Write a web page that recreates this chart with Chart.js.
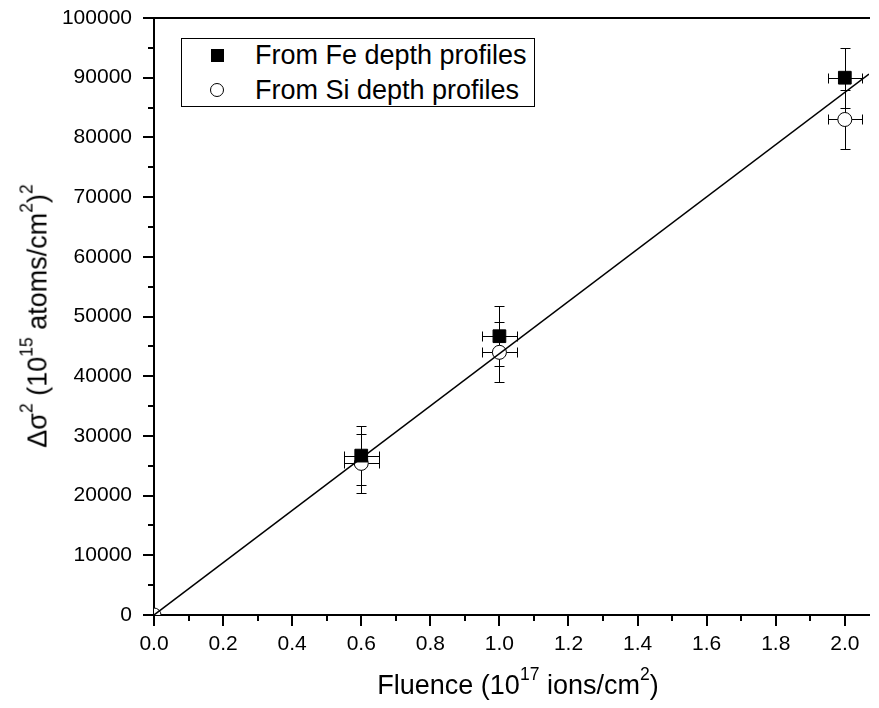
<!DOCTYPE html>
<html lang="en">
<head>
    <title>Δσ² versus fluence</title>
    <meta charset="utf-8">
    <script src="https://cdn.jsdelivr.net/npm/chart.js"></script>
    <style>
        body { margin: 0; background: #fff; }
        #wrap { position: relative; width: 879px; height: 708px; font-family: "Liberation Sans", Arial, sans-serif; color: #000; }
        #wrap canvas { position: absolute; left: 0; top: 0; }
        .title { position: absolute; font-size: 27px; line-height: 27px; white-space: nowrap; }
        .title sup { font-size: 0.65em; line-height: 0; vertical-align: 14px; }
        #xTitle { left: 518px; top: 672px; transform: translateX(-50%); }
        #yTitle { left: 38px; top: 316px; transform: translate(-50%, -50%) rotate(-90deg); }
        .legend-box { position: absolute; left: 181px; top: 38px; width: 352px; height: 67px; border: 1px solid #000; background: #fff; }
        .legend-text { position: absolute; left: 255px; font-size: 27px; line-height: 27px; white-space: nowrap; }
        .mark-square { position: absolute; left: 211px; top: 49px; width: 13px; height: 13px; background: #000; }
        .mark-circle { position: absolute; left: 210px; top: 83px; width: 12px; height: 12px; border: 1px solid #000; border-radius: 50%; background: #fff; }
    </style>
</head>
<body>
    <div id="wrap">
        <canvas id="fluenceChart" width="879" height="708"></canvas>
        <div class="legend-box"></div>
        <div class="mark-square"></div>
        <div class="legend-text" style="top: 42px;">From Fe depth profiles</div>
        <div class="mark-circle"></div>
        <div class="legend-text" style="top: 77px;">From Si depth profiles</div>
        <div class="title" id="xTitle">Fluence (10<sup>17</sup> ions/cm<sup>2</sup>)</div>
        <div class="title" id="yTitle">Δσ<sup>2</sup> (10<sup>15</sup> atoms/cm<sup>2</sup>)<sup>2</sup></div>
    </div>

    <script>
        // fluence in 1e17 ions/cm², broadening in (1e15 atoms/cm²)²
        var fluence  = [0, 0.6, 1.0, 2.0];
        var feValues = [null, 26700, 46700, 90000];
        var siValues = [0, 25400, 44000, 83000];
        var yErr     = [0, 5000, 5000, 5000];
        var xErr     = [0, 0.05, 0.05, 0.05];

        // linear fit through the origin
        var fitX = [0, 2.07];
        var fitY = [0, 90600];

        var CAP = 5;

        function toPoints(xs, ys) {
            return xs.map(function (x, i) { return { x: x, y: ys[i] }; });
        }

        var errorBars = {
            id: 'errorBars',
            beforeDatasetsDraw: function (chart) {
                var ctx = chart.ctx, xs = chart.scales.x, ys = chart.scales.y;
                ctx.save();
                ctx.strokeStyle = '#000';
                ctx.lineWidth = 1;
                [feValues, siValues].forEach(function (vals) {
                    vals.forEach(function (v, i) {
                        if (v === null) return;
                        var px = Math.round(xs.getPixelForValue(fluence[i])) + 0.5;
                        var py = Math.round(ys.getPixelForValue(v)) + 0.5;
                        ctx.beginPath();
                        if (yErr[i] > 0) {
                            var top = Math.round(ys.getPixelForValue(v + yErr[i])) + 0.5;
                            var bot = Math.round(ys.getPixelForValue(v - yErr[i])) + 0.5;
                            ctx.moveTo(px, top); ctx.lineTo(px, bot);
                            ctx.moveTo(px - CAP, top); ctx.lineTo(px + CAP, top);
                            ctx.moveTo(px - CAP, bot); ctx.lineTo(px + CAP, bot);
                        }
                        if (xErr[i] > 0) {
                            var lft = Math.round(xs.getPixelForValue(fluence[i] - xErr[i])) + 0.5;
                            var rgt = Math.round(xs.getPixelForValue(fluence[i] + xErr[i])) + 0.5;
                            ctx.moveTo(lft, py); ctx.lineTo(rgt, py);
                            ctx.moveTo(lft, py - CAP); ctx.lineTo(lft, py + CAP);
                            ctx.moveTo(rgt, py - CAP); ctx.lineTo(rgt, py + CAP);
                        }
                        ctx.stroke();
                    });
                });
                ctx.restore();
            }
        };

        // outward major/minor ticks and the top frame line
        var frame = {
            id: 'frame',
            afterDraw: function (chart) {
                var ctx = chart.ctx, a = chart.chartArea, xs = chart.scales.x, ys = chart.scales.y;
                ctx.save();
                ctx.strokeStyle = '#000';
                ctx.lineWidth = 2;
                ctx.beginPath();
                ctx.moveTo(a.left - 1, a.top); ctx.lineTo(a.right + 1, a.top);
                for (var i = 0; i * 0.1 <= xs.max + 1e-9; i++) {
                    var px = Math.round(xs.getPixelForValue(i * 0.1));
                    ctx.moveTo(px, a.bottom); ctx.lineTo(px, a.bottom + (i % 2 ? 6 : 11));
                }
                for (var j = 0; j * 5000 <= ys.max; j++) {
                    var py = Math.round(ys.getPixelForValue(j * 5000));
                    ctx.moveTo(a.left, py); ctx.lineTo(a.left - (j % 2 ? 6 : 11), py);
                }
                ctx.stroke();
                ctx.restore();
            }
        };

        Chart.defaults.font.family = '"Liberation Sans", Arial, sans-serif';
        Chart.defaults.color = '#000';

        var chart = new Chart(document.getElementById('fluenceChart'), {
            type: 'scatter',
            data: {
                datasets: [{
                    label: 'Linear fit',
                    data: toPoints(fitX, fitY),
                    showLine: true,
                    borderColor: '#000',
                    borderWidth: 1.5,
                    pointRadius: 0,
                    order: 0
                }, {
                    label: 'From Fe depth profiles',
                    data: toPoints(fluence, feValues),
                    pointStyle: 'rect',
                    pointRadius: 9,
                    backgroundColor: '#000',
                    borderColor: '#000',
                    borderWidth: 1,
                    order: 1
                }, {
                    label: 'From Si depth profiles',
                    data: toPoints(fluence, siValues),
                    pointStyle: 'circle',
                    pointRadius: 7,
                    backgroundColor: '#fff',
                    borderColor: '#000',
                    borderWidth: 1,
                    clip: 0,
                    order: 2
                }]
            },
            options: {
                responsive: false,
                animation: false,
                events: [],
                layout: { padding: { top: 18, right: 1, left: 0, bottom: 0 } },
                plugins: {
                    legend: { display: false },
                    tooltip: { enabled: false }
                },
                scales: {
                    x: {
                        type: 'linear',
                        min: 0,
                        max: 2.07,
                        afterFit: function (s) {
                            s.height = 93;
                            s.paddingLeft = 0;
                            s.paddingRight = 0;
                        },
                        grid: { display: false, drawTicks: false },
                        border: { display: true, color: '#000', width: 2 },
                        ticks: {
                            stepSize: 0.2,
                            includeBounds: false,
                            autoSkip: false,
                            maxRotation: 0,
                            padding: 17,
                            font: { size: 21 },
                            callback: function (v) { return v.toFixed(1); }
                        }
                    },
                    y: {
                        min: 0,
                        max: 100000,
                        afterFit: function (s) {
                            s.width = 154;
                            s.paddingTop = 0;
                            s.paddingBottom = 0;
                        },
                        grid: { display: false, drawTicks: false },
                        border: { display: true, color: '#000', width: 2 },
                        ticks: {
                            stepSize: 10000,
                            autoSkip: false,
                            padding: 22,
                            font: { size: 21 },
                            callback: function (v) { return String(v); }
                        }
                    }
                }
            },
            plugins: [errorBars, frame]
        });
    </script>
</body>
</html>
